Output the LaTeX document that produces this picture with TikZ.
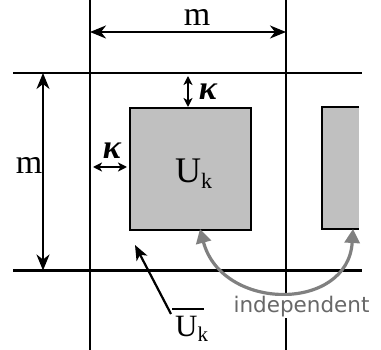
\documentclass[tikz,border=0pt]{standalone}
\usepackage{fontspec}
\setmainfont{Liberation Serif}
\newfontfamily\indepfont{DejaVu Sans}
\usetikzlibrary{arrows.meta}
\definecolor{boxgray}{RGB}{192,192,192}
\definecolor{arcgray}{RGB}{128,128,128}
\definecolor{txtgray}{RGB}{104,104,104}
\tikzset{
  gridline/.style={line width=2.2pt},
  bigarrow/.style={line width=2.2pt,{Stealth[length=16pt,width=13pt,inset=5pt]}-{Stealth[length=16pt,width=13pt,inset=5pt]}},
  smallarrow/.style={line width=1.8pt,{Stealth[length=9pt,width=9pt,inset=2.5pt]}-{Stealth[length=9pt,width=9pt,inset=2.5pt]}},
  ptrarrow/.style={line width=2.2pt,-{Stealth[length=15pt,width=12pt,inset=4pt]}},
  grayarrow/.style={line width=3.2pt,color=arcgray,{Triangle[length=14pt,width=15pt]}-{Triangle[length=14pt,width=15pt]}},
  tile/.style={fill=boxgray,draw=black,line width=2pt},
  serif/.style={inner sep=0pt,font=\fontsize{34}{34}\selectfont},
  kap/.style={inner sep=0pt,font=\fontsize{34}{34}\selectfont\bfseries\itshape},
}
\begin{document}
\begin{tikzpicture}[x=1pt,y=-1pt]
\useasboundingbox (0,0) rectangle (381,350);
% grid
\coordinate (v1t) at (90,0);   \coordinate (v1b) at (90,350);
\coordinate (v2t) at (286,0);  \coordinate (v2b) at (286,350);
\coordinate (h1l) at (13,73);  \coordinate (h1r) at (362,73);
\coordinate (h2l) at (13,270.5); \coordinate (h2r) at (362,270.5);
\draw[gridline] (v1t) -- (v1b);
\draw[gridline] (v2t) -- (v2b);
\draw[gridline] (h1l) -- (h1r);
\draw[gridline] (h2l) -- (h2r);
% tiles
\node[tile,minimum width=121pt,minimum height=122pt,inner sep=0pt,anchor=north west] (sq) at (129,107) {};
\fill[boxgray] (322,107) rectangle (359,229);
\draw[line width=2pt] (359,107) -- (322,107) -- (322,229) -- (359,229);
\coordinate (sq2b) at (353,229);
% labels in tile
\node[inner sep=0pt,anchor=base west] (uk) at (175,183) {\fontsize{36}{36}\selectfont U\raisebox{-6pt}{\fontsize{22}{22}\selectfont k}};
% m dimension arrows
\coordinate (mt1) at (90,32); \coordinate (mt2) at (286,32);
\draw[bigarrow] (mt1) -- (mt2);
\node[serif,anchor=base] (mtop) at (197,25.5) {m};
\coordinate (ml1) at (43,73); \coordinate (ml2) at (43,270.5);
\draw[bigarrow] (ml1) -- (ml2);
\node[serif,anchor=base east] (mleft) at (42.5,174) {m};
% kappa arrows
\coordinate (kt1) at (188,76); \coordinate (kt2) at (188,107);
\draw[smallarrow] (kt1) -- (kt2);
\node[kap,anchor=base] (ktop) at (208,100) {κ};
\coordinate (kl1) at (93,167); \coordinate (kl2) at (127,167);
\draw[smallarrow] (kl1) -- (kl2);
\node[kap,anchor=base] (kleft) at (112,159) {κ};
% complement label
\node[inner sep=0pt,anchor=base west] (ubar) at (175,337) {\rlap{\hspace{-3pt}\rule[27pt]{32pt}{2pt}}\fontsize{31}{31}\selectfont U\raisebox{-5pt}{\fontsize{21}{21}\selectfont k}};
\coordinate (ptr) at (135,245);
\draw[ptrarrow] (171,314) -- (ptr);
% independent arc
\coordinate (a1) at (200,229);
\draw[grayarrow] (a1) .. controls (222,312) and (348,312) .. (sq2b);
\node[fill=white,inner sep=1pt,anchor=base,text=txtgray,font=\indepfont\fontsize{21.5}{21.5}\selectfont] (indep) at (301.5,313) {independent};
\end{tikzpicture}
\end{document}
